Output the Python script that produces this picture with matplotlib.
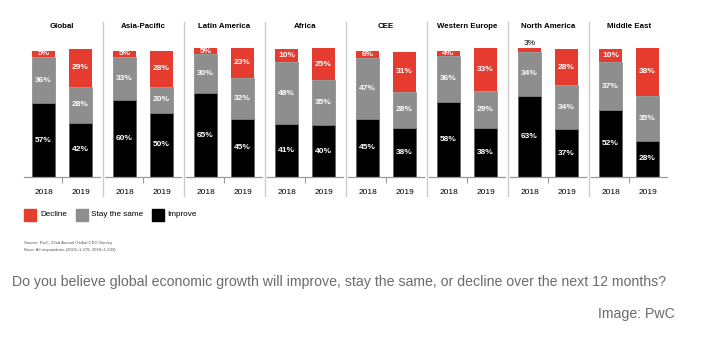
import matplotlib.pyplot as plt
from matplotlib.lines import Line2D
from matplotlib.patches import Rectangle

plt.rcParams['font.family'] = ['Liberation Sans', 'DejaVu Sans']

regions = ["Global", "Asia-Pacific", "Latin America", "Africa",
           "CEE", "Western Europe", "North America", "Middle East"]
years = ["2018", "2019"]

# [2018, 2019] for each region
improve = [[57, 42], [60, 50], [65, 45], [41, 40],
           [45, 38], [58, 38], [63, 37], [52, 28]]
stay = [[36, 28], [33, 20], [30, 32], [48, 35],
        [47, 28], [36, 29], [34, 34], [37, 35]]
decline = [[5, 29], [5, 28], [5, 23], [10, 25],
           [6, 31], [4, 33], [3, 28], [10, 38]]

RED = '#e63c30'
GRAY = '#8e8e8e'
BLACK = '#000000'

W, H = 705, 345
fig = plt.figure(figsize=(W / 100, H / 100), dpi=100)


def px(x, y, w, h):
    return [x / W, 1 - (y + h) / H, w / W, h / H]


for i, name in enumerate(regions):
    x0 = 24 + 81 * i
    ax = fig.add_axes(px(x0, 48, 76, 129))
    ax.set_xlim(-0.527, 1.527)
    ax.set_ylim(0, 100)
    for j in range(2):
        b = improve[i][j]
        s = stay[i][j]
        d = decline[i][j]
        ax.bar(j, b, width=0.62, color=BLACK, edgecolor='#555555', linewidth=0.4)
        ax.bar(j, s, bottom=b, width=0.62, color=GRAY, edgecolor='#777777', linewidth=0.4)
        ax.bar(j, d, bottom=b + s, width=0.62, color=RED, linewidth=0)
        ax.text(j, b / 2, f"{b}%", ha='center', va='center', color='white',
                fontsize=6, fontweight='bold')
        ax.text(j, b + s / 2, f"{s}%", ha='center', va='center', color='white',
                fontsize=6, fontweight='bold')
        if d >= 4:
            ax.text(j, b + s + d / 2, f"{d}%", ha='center', va='center',
                    color='white', fontsize=6, fontweight='bold')
        else:
            ax.text(j, b + s + d + 0.5, f"{d}%", ha='center', va='bottom',
                    color='black', fontsize=6, clip_on=False)
    for side in ['top', 'right', 'left']:
        ax.spines[side].set_visible(False)
    ax.spines['bottom'].set_color('#999999')
    ax.spines['bottom'].set_linewidth(0.9)
    ax.set_yticks([])
    ax.set_xticks([0, 1])
    ax.set_xticklabels(years, fontsize=6)
    ax.tick_params(axis='x', length=0, pad=9)
    ax.set_xticks([0.5], minor=True)
    ax.tick_params(axis='x', which='minor', length=4, width=0.8, color='#999999')
    fig.text((x0 + 38) / W, 1 - 27 / H, name, ha='center', va='center',
             fontsize=5.7, fontweight='bold')
    if i < len(regions) - 1:
        xs = (103 + 81 * i) / W
        fig.add_artist(Line2D([xs, xs], [1 - 22 / H, 1 - 196 / H],
                              color='#cccccc', linewidth=1))

# legend
legend_items = [(RED, "Decline", 24, 40), (GRAY, "Stay the same", 76, 91),
                (BLACK, "Improve", 152, 167)]
for color, label, sx, tx in legend_items:
    fig.add_artist(Rectangle((sx / W, 1 - 221 / H), 12 / W, 12 / H,
                             color=color, transform=fig.transFigure))
    fig.text(tx / W, 1 - 215 / H, label, ha='left', va='center', fontsize=5.9)

fig.text(24 / W, 1 - 243 / H, "Source: PwC, 22nd Annual Global CEO Survey",
         fontsize=3.1, color='#555555', va='center')
fig.text(24 / W, 1 - 250 / H, "Base: All respondents (2019=1,378; 2018=1,293)",
         fontsize=3.1, color='#555555', va='center')

fig.text(12 / W, 1 - 282 / H,
         "Do you believe global economic growth will improve, stay the same, "
         "or decline over the next 12 months?",
         fontsize=10.2, color='#6b6b6b', va='center')
fig.text(675 / W, 1 - 314 / H, "Image: PwC", fontsize=10.2, color='#6b6b6b',
         va='center', ha='right')

fig.savefig('out.png', dpi=100)
